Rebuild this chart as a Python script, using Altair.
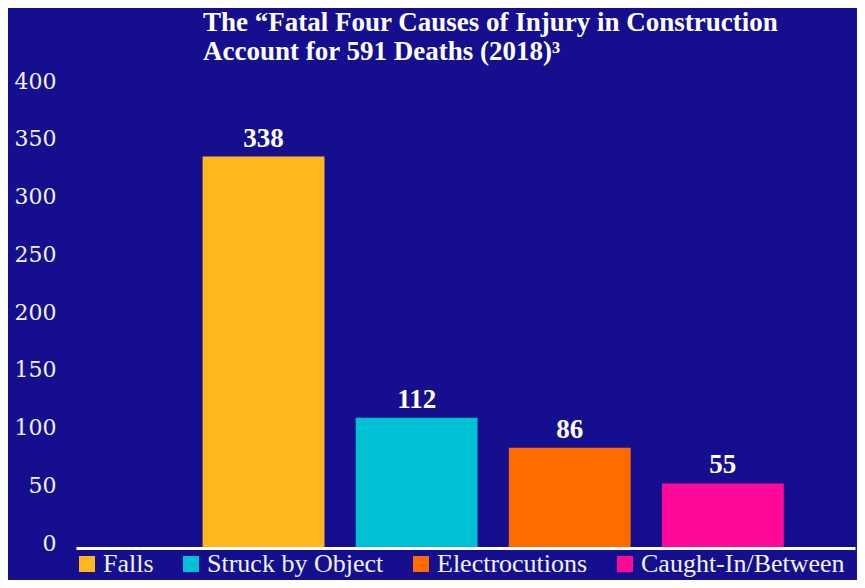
import altair as alt
import pandas as pd

categories = ["Falls", "Struck by Object", "Electrocutions", "Caught-In/Between"]
deaths = [338, 112, 86, 55]
colors = ["#FFB71B", "#00C1D4", "#FF6B00", "#FF0A98"]
y_ticks = [0, 50, 100, 150, 200, 250, 300, 350, 400]
title_lines = ["The \u201cFatal Four Causes of Injury in Construction",
               "Account for 591 Deaths (2018)\u00b3"]

df = pd.DataFrame({"cause": categories, "deaths": deaths})

bg = "#150F8F"

x = alt.X("cause:N", sort=categories,
          scale=alt.Scale(paddingInner=0.204, paddingOuter=0.646, align=0.64),
          axis=alt.Axis(title=None, labels=False, ticks=False, domain=True,
                        domainColor="white", domainWidth=3, offset=1))
y = alt.Y("deaths:Q", scale=alt.Scale(domain=[0, 400]),
          axis=alt.Axis(title=None, values=y_ticks,
                        grid=False, ticks=False, domain=False,
                        labelFont="DejaVu Serif", labelFontSize=22,
                        labelColor="#F2F2FA", labelPadding=20, labelOffset=-4))

bars = alt.Chart(df).mark_bar().encode(
    x=x, y=y,
    color=alt.Color("cause:N", sort=categories,
                    scale=alt.Scale(domain=categories, range=colors),
                    legend=alt.Legend(title=None, orient="none", legendX=-2, legendY=466,
                                      direction="horizontal", symbolType="square",
                                      symbolSize=256, symbolStrokeWidth=0,
                                      labelFont="Liberation Serif", labelFontSize=26,
                                      labelColor="#F2F2FA", labelLimit=0,
                                      columnPadding=24, labelOffset=3)),
)

labels = alt.Chart(df).mark_text(
    baseline="alphabetic", dy=-10, font="Liberation Serif", fontSize=27,
    fontWeight="bold", color="white"
).encode(x=alt.X("cause:N", sort=categories), y="deaths:Q", text="deaths:Q")

chart = (bars + labels).properties(
    width=779, height=462,
    autosize=alt.AutoSizeParams(type="none"),
    padding={"left": 68, "top": 77, "right": 2, "bottom": 33},
    background=bg,
    title=alt.TitleParams(text=title_lines, anchor="start", frame="group", dx=127,
                          font="Liberation Serif", fontSize=27, fontWeight="bold",
                          color="white", lineHeight=29),
).configure_view(stroke=None)

chart.save("out.html", embed_options={"renderer": "svg", "actions": False})
